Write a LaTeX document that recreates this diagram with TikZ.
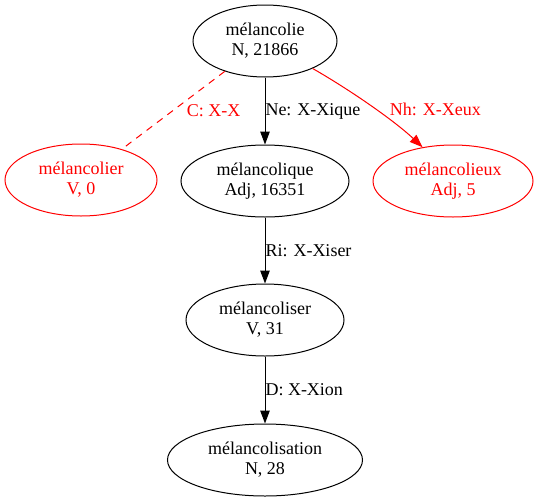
\documentclass[tikz,border=0pt]{standalone}
\usepackage{fontspec}
\setmainfont{Liberation Serif}
\usetikzlibrary{shapes.geometric,arrows.meta}

\begin{document}
\begin{tikzpicture}[x=1pt,y=-1pt,line width=1pt,
        form/.style={ellipse,draw,inner sep=0pt,minimum height=72pt,align=center,
                     font=\fontsize{18}{20}\selectfont},
        rel/.style={inner sep=0pt,font=\fontsize{18}{20}\selectfont},
        derive/.style={-{Triangle[length=13pt,width=9.5pt]}}]
    \useasboundingbox (0,0) rectangle (546,501);
    \node[form,minimum width=144pt] (lie) at (265,41) {mélancolie\\N, 21866};
    \node[form,red,minimum width=152pt] (lier) at (81,180) {mélancolier\\V, 0};
    \node[form,minimum width=168pt] (lique) at (265,181) {mélancolique\\Adj, 16351};
    \node[form,red,minimum width=160pt] (lieux) at (453,181) {mélancolieux\\Adj, 5};
    \node[form,minimum width=158pt] (liser) at (265,320) {mélancoliser\\V, 31};
    \node[form,minimum width=195pt] (lisation) at (265,460) {mélancolisation\\N, 28};

    \draw[red,dash pattern=on 7pt off 6pt] (lie) -- node[rel,right=13pt] {C: X-X} (lier);
    \draw[derive] (lie) -- node[rel,right] {Ne: X-Xique} (lique);
    \draw[derive,red] (lie.-30) .. controls +(35,20) and +(-30,-28) .. node[rel,right=20pt,yshift=-5pt] {Nh: X-Xeux} (lieux.132);
    \draw[derive] (lique) -- node[rel,right] {Ri: X-Xiser} (liser);
    \draw[derive] (liser) -- node[rel,right] {D: X-Xion} (lisation);
\end{tikzpicture}
\end{document}
